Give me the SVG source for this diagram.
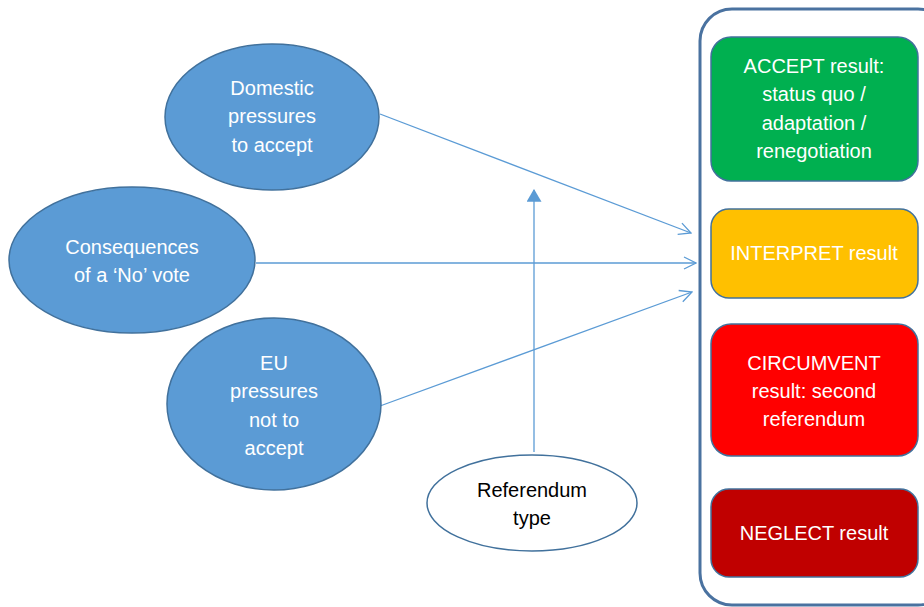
<svg xmlns="http://www.w3.org/2000/svg" width="924" height="607" viewBox="0 0 924 607">
<defs>
<style>
.ell{fill:#5B9BD5;stroke:#41719C;stroke-width:1.5}
.box{stroke:#41719C;stroke-width:1.5}
.t{font-family:"Liberation Sans",Arial,sans-serif;font-size:20px;fill:#fff;text-anchor:middle}
.tk{fill:#000}
.c{stroke:#5B9BD5;stroke-width:1.3;fill:none}
</style>
<marker id="open" viewBox="0 0 14 14" refX="13" refY="7" markerWidth="14" markerHeight="14" markerUnits="userSpaceOnUse" orient="auto">
<path d="M1,1 L13,7 L1,13" fill="none" stroke="#5B9BD5" stroke-width="1.3"/>
</marker>
<marker id="tri" viewBox="0 0 12 14" refX="11" refY="7" markerWidth="13" markerHeight="15" markerUnits="userSpaceOnUse" orient="auto">
<path d="M0,0 L12,7 L0,14 Z" fill="#5B9BD5"/>
</marker>
</defs>
<rect width="924" height="607" fill="#fff"/>
<g id="container"><rect x="700" y="9" width="250" height="596" rx="32" fill="none" stroke="#4A72A0" stroke-width="3"/></g>
<g id="connectors">
<line class="c" x1="380" y1="114" x2="691" y2="233" marker-end="url(#open)"/>
<line class="c" x1="256" y1="263" x2="696" y2="263" marker-end="url(#open)"/>
<line class="c" x1="380" y1="406" x2="692" y2="292" marker-end="url(#open)"/>
<line class="c" x1="534" y1="452" x2="534" y2="190" marker-end="url(#tri)"/>
</g>
<g id="domestic"><ellipse class="ell" cx="272" cy="117" rx="107" ry="73"/>
<text class="t" x="272" y="95">Domestic</text><text class="t" x="272" y="123">pressures</text><text class="t" x="272" y="152">to accept</text></g>
<g id="consequences"><ellipse class="ell" cx="132" cy="260" rx="123" ry="73"/>
<text class="t" x="132" y="254">Consequences</text><text class="t" x="132" y="282">of a ‘No’ vote</text></g>
<g id="eu"><ellipse class="ell" cx="274" cy="404" rx="107" ry="86"/>
<text class="t" x="274" y="370">EU</text><text class="t" x="274" y="398">pressures</text><text class="t" x="274" y="427">not to</text><text class="t" x="274" y="455">accept</text></g>
<g id="reftype"><ellipse cx="532" cy="503" rx="105" ry="48" fill="#fff" stroke="#41719C" stroke-width="1.5"/>
<text class="t tk" x="532" y="497">Referendum</text><text class="t tk" x="532" y="525">type</text></g>
<g id="accept"><rect class="box" x="711" y="37" width="207" height="144" rx="20" fill="#00B050"/>
<text class="t" x="814" y="73">ACCEPT result:</text><text class="t" x="814" y="101">status quo /</text><text class="t" x="814" y="130">adaptation /</text><text class="t" x="814" y="158">renegotiation</text></g>
<g id="interpret"><rect class="box" x="711" y="209" width="207" height="89" rx="18" fill="#FFC000"/>
<text class="t" x="814" y="260">INTERPRET result</text></g>
<g id="circumvent"><rect class="box" x="711" y="324" width="207" height="132" rx="20" fill="#FF0000"/>
<text class="t" x="814" y="370">CIRCUMVENT</text><text class="t" x="814" y="398">result: second</text><text class="t" x="814" y="426">referendum</text></g>
<g id="neglect"><rect class="box" x="711" y="489" width="207" height="88" rx="18" fill="#C00000"/>
<text class="t" x="814" y="540">NEGLECT result</text></g>
</svg>
